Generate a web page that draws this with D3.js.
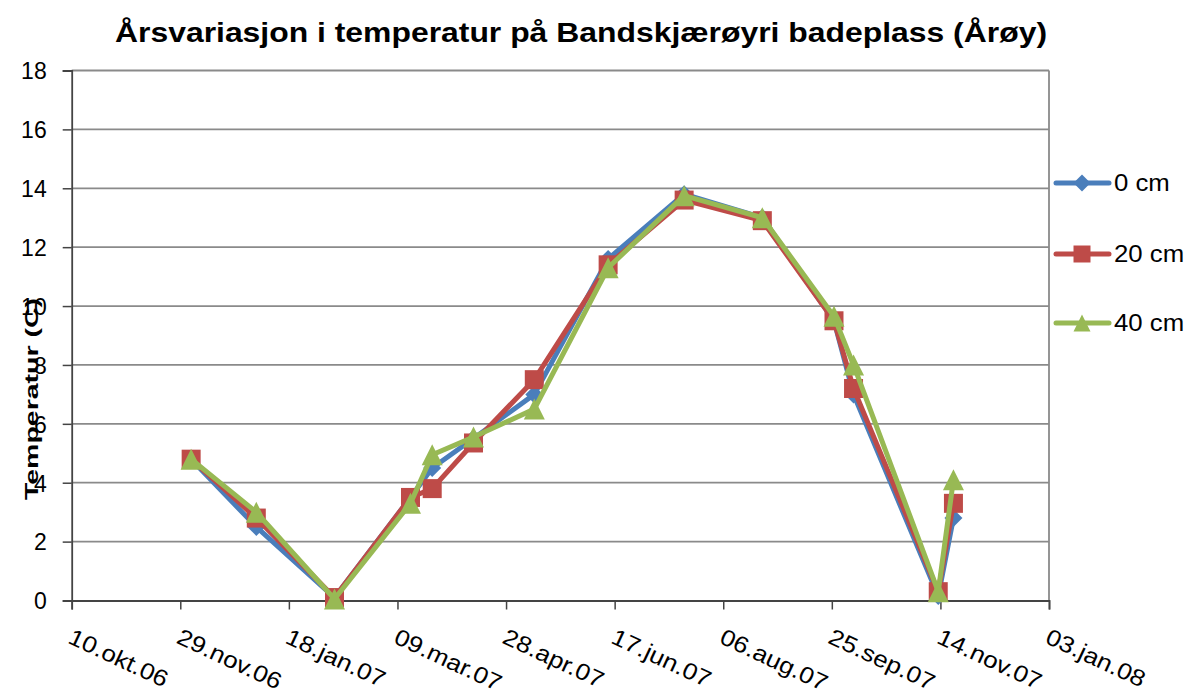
<!DOCTYPE html>
<html><head><meta charset="utf-8">
<script src="https://cdn.jsdelivr.net/npm/d3@7"></script>
<style>body{margin:0;background:#fff}svg{display:block}text{font-family:"Liberation Sans",Arial,sans-serif}</style>
</head><body><svg id="c" width="1194" height="693"></svg>
<script>
const dates = ["2006-12-04","2007-01-03","2007-02-08","2007-03-15","2007-03-25","2007-04-13","2007-05-11","2007-06-14","2007-07-19","2007-08-24","2007-09-26","2007-10-05","2007-11-13","2007-11-20"];
const cm0  = [4.8, 2.5, 0.1, 3.5, 4.5, 5.5, 7.0, 11.6, 13.8, 13.0, 9.5, 7.0, 0.15, 2.8];
const cm20 = [4.8, 2.8, 0.1, 3.5, 3.8, 5.35, 7.5, 11.4, 13.6, 12.9, 9.5, 7.2, 0.3, 3.3];
const cm40 = [4.8, 3.0, 0.05, 3.3, 4.95, 5.55, 6.5, 11.3, 13.75, 13.0, 9.65, 8.0, 0.3, 4.1];
const seriesNames = ["0 cm","20 cm","40 cm"];
const yTicks = [0,2,4,6,8,10,12,14,16,18];
const xStart = "2006-10-10", xEnd = "2008-01-03", tickStepDays = 50;
const months = ["jan","feb","mar","apr","mai","jun","jul","aug","sep","okt","nov","des"];
const title = "Årsvariasjon i temperatur på Bandskjærøyri badeplass (Årøy)";
const yLabel = "Temperatur (C)";

const colors = ["#4A7EBB","#BE4B48","#98B954"];
const parse = d3.utcParse("%Y-%m-%d");
const svg = d3.select("#c");
const L = 71.7, R = 1049, T = 70.5, B = 600.5;
const x = d3.scaleUtc().domain([parse(xStart), parse(xEnd)]).range([L, R]);
const y = d3.scaleLinear().domain([0,18]).range([B, T]);

// custom marker shapes (size = width)
const diamond = {draw(c,s){const h=s/2;c.moveTo(0,-h);c.lineTo(h,0);c.lineTo(0,h);c.lineTo(-h,0);c.closePath();}};
const square = {draw(c,s){const h=s/2;c.rect(-h,-h,s,s);}};
const triangle = {draw(c,s){const h=s/2;c.moveTo(0,-h);c.lineTo(h,h);c.lineTo(-h,h);c.closePath();}};
const symbols = [diamond, square, triangle];
const sizes = [18, 19, 21];

// gridlines
svg.append("g").selectAll("line").data(yTicks.filter(d=>d>0)).join("line")
  .attr("x1",L).attr("x2",R).attr("y1",d=>y(d)).attr("y2",d=>y(d))
  .attr("stroke","#8a8a8a").attr("stroke-width",1.8);
svg.append("line").attr("x1",R).attr("x2",R).attr("y1",T).attr("y2",B).attr("stroke","#8a8a8a").attr("stroke-width",1.8);

const xTickVals = [];
for (let d = parse(xStart); d <= parse(xEnd); d = d3.utcDay.offset(d, tickStepDays)) xTickVals.push(d);
const fmt = d => d3.utcFormat("%d")(d) + "." + months[d.getUTCMonth()] + "." + d3.utcFormat("%y")(d);

const yAxis = d3.axisLeft(y).tickValues(yTicks).tickSize(9).tickPadding(16).tickFormat(d3.format("d"));
const gy = svg.append("g").attr("transform",`translate(${L},0)`).call(yAxis);
gy.selectAll("text").attr("font-size",23).attr("fill","#000").attr("dy","0.36em");
gy.selectAll("line").attr("stroke","#444").attr("stroke-width",1.5);
gy.select(".domain").attr("stroke","#444").attr("stroke-width",1.8);

const xAxis = d3.axisBottom(x).tickValues(xTickVals).tickSize(9).tickFormat(fmt);
const gx = svg.append("g").attr("transform",`translate(0,${B})`).call(xAxis);
gx.selectAll("line").attr("stroke","#444").attr("stroke-width",1.5);
gx.select(".domain").attr("stroke","#444").attr("stroke-width",1.8);
gx.selectAll("text").attr("font-size",23).attr("fill","#000")
  .attr("text-anchor","start").attr("dy",0).attr("y",0)
  .attr("transform","translate(-5.5,42) rotate(25)")
  .each(function(){ const w=this.getComputedTextLength(); d3.select(this).attr("textLength",w*1.13).attr("lengthAdjust","spacingAndGlyphs"); });

// series
const all = [cm0, cm20, cm40].map(vals => dates.map((d,i)=>({x:parse(d), y:vals[i]})));
const line = d3.line().x(d=>x(d.x)).y(d=>y(d.y));
all.forEach((s,i)=>{
  svg.append("path").datum(s).attr("d",line).attr("fill","none")
    .attr("stroke",colors[i]).attr("stroke-width",5).attr("stroke-linejoin","round");
  svg.append("g").selectAll("path").data(s).join("path")
    .attr("d", d3.symbol(symbols[i], sizes[i]))
    .attr("transform", d=>`translate(${x(d.x)},${y(d.y)})`)
    .attr("fill",colors[i]);
});

// legend
const legY = [183, 254, 323];
seriesNames.forEach((n,i)=>{
  const g = svg.append("g").attr("transform",`translate(0,${legY[i]})`);
  g.append("line").attr("x1",1056).attr("x2",1109).attr("y1",0).attr("y2",0)
    .attr("stroke",colors[i]).attr("stroke-width",5).attr("stroke-linecap","round");
  g.append("path").attr("d", d3.symbol(symbols[i], 17)).attr("transform","translate(1082,0)").attr("fill",colors[i]);
  const t = g.append("text").attr("x",1114).attr("y",0).attr("dy","0.36em").attr("font-size",23).text(n);
  const w = t.node().getComputedTextLength();
  t.attr("textLength", w*1.12).attr("lengthAdjust","spacingAndGlyphs");
});

// title
svg.append("text").attr("x",581).attr("y",42).attr("text-anchor","middle")
  .attr("font-size",28).attr("font-weight","bold")
  .attr("textLength",932).attr("lengthAdjust","spacingAndGlyphs").text(title);
// y label
svg.append("text").attr("transform","translate(38,399) rotate(-90)").attr("text-anchor","middle")
  .attr("font-size",18).attr("font-weight","bold")
  .attr("textLength",202).attr("lengthAdjust","spacingAndGlyphs").text(yLabel);
</script></body></html>
